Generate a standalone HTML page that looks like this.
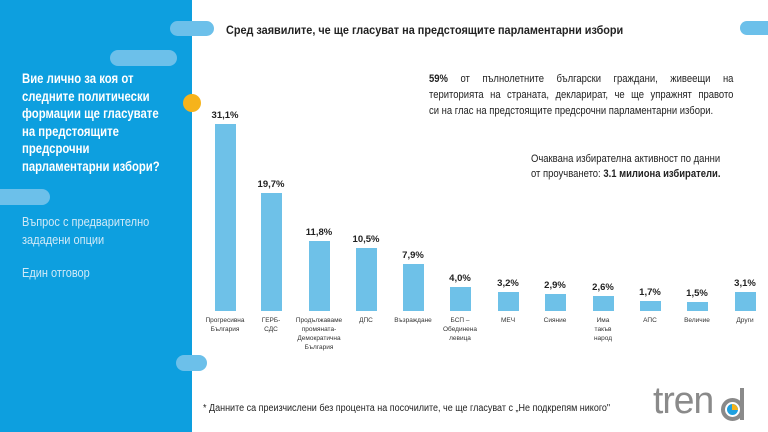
<!DOCTYPE html>
<html><head><meta charset="utf-8"><style>
body{margin:0;width:768px;height:432px;overflow:hidden;background:#fff;position:relative;font-family:"Liberation Sans",sans-serif;color:#222}
.a{position:absolute}
.s{transform-origin:0 0}
.pill{position:absolute;background:#6cc0ea;border-radius:8px}
.bar{position:absolute;width:21px;background:#6ec1e8}
.v{position:absolute;width:50px;text-align:center;font-weight:bold;font-size:9.5px;color:#222}
.l{position:absolute;width:60px;text-align:center;font-size:6.5px;line-height:9px;color:#333;top:316px}
.j{text-align:justify;text-align-last:justify}
</style></head><body>
<div class="a" style="left:0;top:0;width:192px;height:432px;background:#0d9fdf"></div>
<div class="pill" style="left:170px;top:21px;width:44px;height:15px"></div>
<div class="pill" style="left:110px;top:50px;width:67px;height:16px"></div>
<div class="pill" style="left:-10px;top:189px;width:60px;height:16px"></div>
<div class="pill" style="left:176px;top:355px;width:31px;height:16px"></div>
<div class="pill" style="left:740px;top:21px;width:40px;height:14px"></div>
<div class="a" style="left:183px;top:94px;width:18px;height:18px;border-radius:50%;background:#f6b31b"></div>
<div class="a s" style="left:22px;top:70px;width:190px;color:#fff;font-weight:bold;font-size:13.5px;line-height:17.5px;transform:scaleX(0.84)">Вие лично за коя от<br>следните политически<br>формации ще гласувате<br>на предстоящите<br>предсрочни<br>парламентарни избори?</div>
<div class="a s" style="left:22px;top:213px;width:190px;color:#cfe9f7;font-size:12.5px;line-height:18px;transform:scaleX(0.88)">Въпрос с предварително<br>зададени опции</div>
<div class="a s" style="left:22px;top:266px;color:#cfe9f7;font-size:12.5px;transform:scaleX(0.88)">Един отговор</div>
<div class="a s" style="left:226px;top:23px;font-weight:bold;font-size:12px;white-space:nowrap;transform:scaleX(0.905)">Сред заявилите, че ще гласуват на предстоящите парламентарни избори</div>
<div class="a s" style="left:429px;top:71px;width:354px;font-size:11px;line-height:16px;transform:scaleX(0.86)">
<div class="j"><b>59%</b> от пълнолетните български граждани, живеещи на</div>
<div class="j">територията на страната, декларират, че ще упражнят правото</div>
<div style="white-space:nowrap">си на глас на предстоящите предсрочни парламентарни избори.</div></div>
<div class="a s" style="left:531px;top:152px;width:240px;font-size:11px;line-height:15px;transform:scaleX(0.86)">Очаквана избирателна активност по данни<br>от проучването: <b>3.1 милиона избиратели.</b></div>
<div class="a s" style="left:203px;top:403px;font-size:10px;white-space:nowrap;transform:scaleX(0.9)">* Данните са преизчислени без процента на посочилите, че ще гласуват с „Не подкрепям никого"</div>
<div class="a s" style="left:653px;top:381px;font-size:38px;color:#8a8a8a;letter-spacing:-1px;line-height:40px;transform:scaleX(0.98)">tren</div>
<div class="a" style="left:721px;top:398px;width:15px;height:15px;border-radius:50%;border:4px solid #8a8a8a"></div>
<div class="a" style="left:740px;top:388px;width:4px;height:32px;background:#8a8a8a"></div>
<div class="a" style="left:727px;top:404px;width:11px;height:11px;border-radius:50%;background:#1ea0e0"></div>
<div class="a" style="left:732px;top:404px;width:6px;height:6px;background:#f6b31b;border-radius:0 6px 0 0"></div>

<div class="bar" style="left:215px;top:124px;height:187px"></div><div class="v" style="left:200px;top:110px">31,1%</div>
<div class="bar" style="left:261px;top:193px;height:118px"></div><div class="v" style="left:246px;top:179px">19,7%</div>
<div class="bar" style="left:309px;top:241px;height:70px"></div><div class="v" style="left:294px;top:227px">11,8%</div>
<div class="bar" style="left:356px;top:248px;height:63px"></div><div class="v" style="left:341px;top:234px">10,5%</div>
<div class="bar" style="left:403px;top:264px;height:47px"></div><div class="v" style="left:388px;top:250px">7,9%</div>
<div class="bar" style="left:450px;top:287px;height:24px"></div><div class="v" style="left:435px;top:273px">4,0%</div>
<div class="bar" style="left:498px;top:292px;height:19px"></div><div class="v" style="left:483px;top:278px">3,2%</div>
<div class="bar" style="left:545px;top:294px;height:17px"></div><div class="v" style="left:530px;top:280px">2,9%</div>
<div class="bar" style="left:593px;top:296px;height:15px"></div><div class="v" style="left:578px;top:282px">2,6%</div>
<div class="bar" style="left:640px;top:301px;height:10px"></div><div class="v" style="left:625px;top:287px">1,7%</div>
<div class="bar" style="left:687px;top:302px;height:9px"></div><div class="v" style="left:672px;top:288px">1,5%</div>
<div class="bar" style="left:735px;top:292px;height:19px"></div><div class="v" style="left:720px;top:278px">3,1%</div>

<div class="l" style="left:195px">Прогресивна<br>България</div>
<div class="l" style="left:241px">ГЕРБ-<br>СДС</div>
<div class="l" style="left:289px">Продължаваме<br>промяната-<br>Демократична<br>България</div>
<div class="l" style="left:336px">ДПС</div>
<div class="l" style="left:383px">Възраждане</div>
<div class="l" style="left:430px">БСП –<br>Обединена<br>левица</div>
<div class="l" style="left:478px">МЕЧ</div>
<div class="l" style="left:525px">Сияние</div>
<div class="l" style="left:573px">Има<br>такъв<br>народ</div>
<div class="l" style="left:620px">АПС</div>
<div class="l" style="left:667px">Величие</div>
<div class="l" style="left:715px">Други</div>
</body></html>
